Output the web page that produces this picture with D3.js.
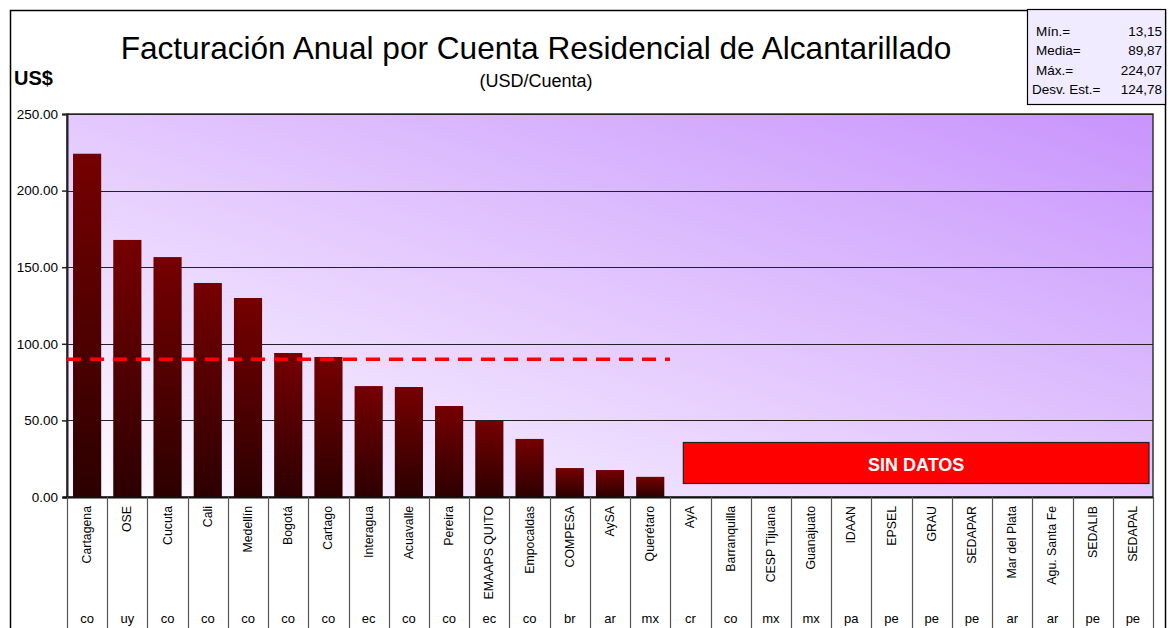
<!DOCTYPE html>
<html>
<head>
<meta charset="utf-8">
<script src="https://cdn.jsdelivr.net/npm/d3@7"></script>
<style>
  body { margin: 0; background: #fff; }
  svg { display: block; font-family: "Liberation Sans", Arial, sans-serif; }
</style>
</head>
<body>
<svg id="chart" width="1176" height="628"></svg>
<script>
// data
const names = ["Cartagena", "OSE", "Cucuta", "Cali", "Medellín", "Bogotá", "Cartago", "Interagua",
  "Acuavalle", "Pereira", "EMAAPS QUITO", "Empocaldas", "COMPESA", "AySA", "Querétaro", "AyA",
  "Barranquilla", "CESP Tijuana", "Guanajuato", "IDAAN", "EPSEL", "GRAU", "SEDAPAR",
  "Mar del Plata", "Agu. Santa Fe", "SEDALIB", "SEDAPAL"];
const countries = ["co", "uy", "co", "co", "co", "co", "co", "ec", "co", "co", "ec", "co", "br", "ar",
  "mx", "cr", "co", "mx", "mx", "pa", "pe", "pe", "pe", "ar", "ar", "pe", "pe"];
const values = [224.07, 167.8, 156.6, 139.7, 129.9, 94.0, 91.4, 72.4, 71.8, 59.4, 49.6, 37.9,
  18.9, 17.6, 13.15, null, null, null, null, null, null, null, null, null, null, null, null];
const yTicks = [0, 50, 100, 150, 200, 250];
const statLabels = ["Mín.=", "Media=", "Máx.=", "Desv. Est.="];
const statValues = ["13,15", "89,87", "224,07", "124,78"];
const mean = 89.87;

const margin = { left: 67, right: 1153, top: 114, bottom: 497 };
const svg = d3.select("#chart");

const x = d3.scaleBand().domain(names).range([margin.left, margin.right])
  .paddingInner(0.3).paddingOuter(0.15);
const y = d3.scaleLinear().domain([0, 250]).range([margin.bottom, margin.top]);
const step = x.step();

const defs = svg.append("defs");
const bg = defs.append("linearGradient").attr("id", "bg")
  .attr("x1", 0).attr("y1", 1).attr("x2", 1).attr("y2", 0);
bg.append("stop").attr("offset", "0%").attr("stop-color", "#fefcff");
bg.append("stop").attr("offset", "100%").attr("stop-color", "#c894fd");

const barGrad = defs.append("linearGradient").attr("id", "bar")
  .attr("x1", 0).attr("y1", 0).attr("x2", 0).attr("y2", 1);
barGrad.append("stop").attr("offset", "0%").attr("stop-color", "#760000");
barGrad.append("stop").attr("offset", "100%").attr("stop-color", "#2c0000");

// outer frame
svg.append("rect").attr("x", 10.5).attr("y", 10.5).attr("width", 1155).attr("height", 640)
  .attr("fill", "none").attr("stroke", "#000").attr("stroke-width", 1.5);

// titles
svg.append("text").attr("x", 536).attr("y", 59).attr("text-anchor", "middle")
  .attr("font-size", 31.6).text("Facturación Anual por Cuenta Residencial de Alcantarillado");
svg.append("text").attr("x", 536).attr("y", 87).attr("text-anchor", "middle")
  .attr("font-size", 18).text("(USD/Cuenta)");
svg.append("text").attr("x", 14).attr("y", 85).attr("font-size", 20).attr("font-weight", "bold")
  .text("US$");

// stats box
svg.append("rect").attr("x", 1027.5).attr("y", 9.5).attr("width", 138).attr("height", 95)
  .attr("fill", "#f1ebff").attr("stroke", "#000").attr("stroke-width", 1.2);
const stats = svg.append("g").attr("font-size", 13.5);
statLabels.forEach((l, i) => {
  stats.append("text").attr("x", l.startsWith("Desv") ? 1032 : 1036).attr("y", 36 + i * 19.3).text(l);
  stats.append("text").attr("x", 1162).attr("y", 36 + i * 19.3).attr("text-anchor", "end").text(statValues[i]);
});

// plot background
svg.append("rect").attr("x", margin.left).attr("y", margin.top)
  .attr("width", margin.right - margin.left).attr("height", margin.bottom - margin.top)
  .attr("fill", "url(#bg)").attr("stroke", "#333").attr("stroke-width", 1.5);

// gridlines
svg.append("g").selectAll("line").data(yTicks.filter(d => d > 0)).join("line")
  .attr("x1", margin.left).attr("x2", margin.right)
  .attr("y1", d => Math.round(y(d)) + 0.5).attr("y2", d => Math.round(y(d)) + 0.5)
  .attr("stroke", "#222").attr("stroke-width", 1);

// y axis
const yAxis = d3.axisLeft(y).tickValues(yTicks).tickFormat(d3.format(".2f")).tickSize(5).tickPadding(4);
svg.append("g").attr("transform", `translate(${margin.left},0)`).call(yAxis)
  .call(g => g.select(".domain").attr("stroke", "#222").attr("stroke-width", 2))
  .call(g => g.selectAll(".tick line").attr("stroke", "#222").attr("stroke-width", 1.5))
  .call(g => g.selectAll("text").attr("font-size", 13.5).attr("fill", "#000")
    .attr("font-family", "Liberation Sans, Arial, sans-serif"));

// bars
svg.append("g").selectAll("rect").data(names.map((n, i) => ({ n, v: values[i] })).filter(d => d.v != null))
  .join("rect")
  .attr("x", d => x(d.n)).attr("width", x.bandwidth())
  .attr("y", d => y(d.v)).attr("height", d => y(0) - y(d.v))
  .attr("fill", "url(#bar)");

// mean line
svg.append("line").attr("x1", margin.left).attr("x2", 670)
  .attr("y1", y(mean)).attr("y2", y(mean))
  .attr("stroke", "#ff0000").attr("stroke-width", 3.5).attr("stroke-dasharray", "14,9");

// SIN DATOS
const firstMissing = names[values.indexOf(null)];
const sx = x(firstMissing) - step * 0.15 + 13;
svg.append("rect").attr("x", sx).attr("y", 442.5).attr("width", 1149 - sx).attr("height", 41)
  .attr("fill", "#ff0000").attr("stroke", "#222").attr("stroke-width", 1.2);
svg.append("text").attr("x", (sx + 1149) / 2).attr("y", 470.5).attr("text-anchor", "middle")
  .attr("fill", "#fff").attr("font-weight", "bold").attr("font-size", 18).text("SIN DATOS");

// x axis line
svg.append("line").attr("x1", margin.left - 4).attr("x2", margin.right)
  .attr("y1", margin.bottom + 0.5).attr("y2", margin.bottom + 0.5)
  .attr("stroke", "#111").attr("stroke-width", 2);

// category separators
const seps = d3.range(names.length + 1).map(i => margin.left + i * step);
svg.append("g").selectAll("line").data(seps).join("line")
  .attr("x1", d => Math.round(d) + 0.5).attr("x2", d => Math.round(d) + 0.5)
  .attr("y1", margin.bottom).attr("y2", 628)
  .attr("stroke", "#555").attr("stroke-width", 1.2);

// category labels
const labels = svg.append("g").attr("font-family", "Liberation Sans Narrow, Arial Narrow, Liberation Sans, sans-serif")
  .attr("font-size", 12.3);
names.forEach(n => {
  const cx = x(n) + x.bandwidth() / 2;
  labels.append("text").attr("transform", `translate(${cx + 4},${506}) rotate(-90)`)
    .attr("text-anchor", "end").text(n);
});
countries.forEach((c, i) => {
  const cx = x(names[i]) + x.bandwidth() / 2;
  labels.append("text").attr("x", cx).attr("y", 623).attr("font-size", 13)
    .attr("text-anchor", "middle").text(c);
});
</script>
</body>
</html>
